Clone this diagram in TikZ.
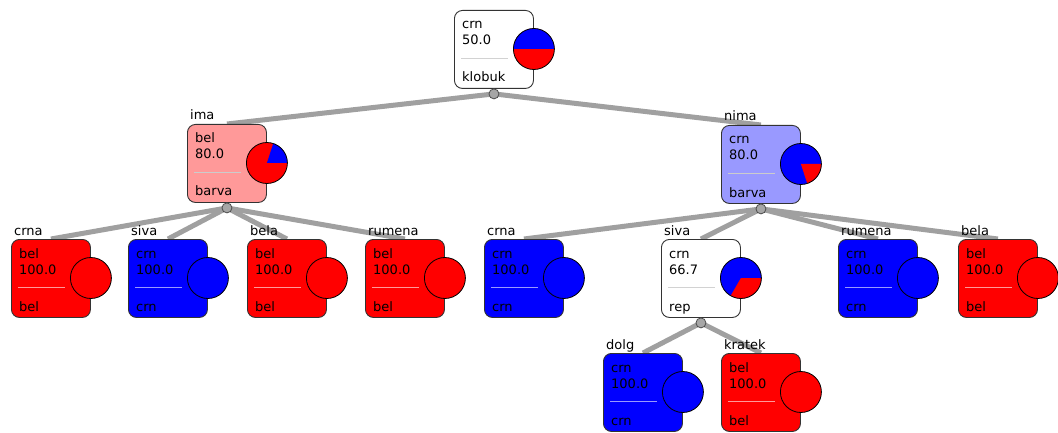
\documentclass[tikz,border=0pt]{standalone}
\usepackage{fontspec}
\setmainfont{DejaVu Sans}
\usetikzlibrary{backgrounds}
\definecolor{lred}{RGB}{255,153,153}
\definecolor{lblue}{RGB}{153,153,255}
\definecolor{connc}{RGB}{160,160,160}
\definecolor{pred}{RGB}{255,0,0}
\definecolor{pblue}{RGB}{0,0,255}
\tikzset{
 treebox/.style={draw=black!80, line width=0.9pt, rounded corners=8pt, minimum width=79pt, minimum height=78pt, inner sep=0pt, anchor=north west},
 txt/.style={anchor=base west, inner sep=0pt, font=\fontsize{13}{15}\selectfont},
 connline/.style={draw=connc, line width=5pt},
 knob/.style={circle, draw=black!70, fill=black!35, minimum size=10pt, inner sep=0pt, line width=0.8pt},
 pieedge/.style={draw=black, line width=0.8pt},
}
% name, x, y, fill, line1, line2, line3, separator colour
\newcommand\tbox[8]{%
 \node[treebox, fill=#4] (#1) at (#2,#3) {};
 \node[txt] (#1-a) at ([xshift=8pt,yshift=-19pt]#1.north west) {#5};
 \node[txt] (#1-b) at ([xshift=8pt,yshift=-35pt]#1.north west) {#6};
 \node[txt] (#1-d) at ([xshift=8pt,yshift=-72pt]#1.north west) {#7};
 \draw[draw=#8, line width=0.8pt] ([xshift=7pt,yshift=-48pt]#1.north west) -- ++(47pt,0pt);
 \coordinate (#1-c) at ([yshift=-39pt]#1.north east);
}
\newcommand\tknob[1]{%
 \node[knob] (#1-k) at ([yshift=-5pt]#1.south) {};
}
\newcommand\tlabel[2]{%
 \node[txt] (#1-l) at ([xshift=3pt,yshift=4pt]#1.north west) {#2};
}
% name, base colour, wedge colour, start, end
\newcommand\tpie[5]{%
 \fill[#2] (#1-c) circle (20.5pt);
 \fill[#3] (#1-c) -- ++(#4:20.5pt) arc[start angle=#4, end angle=#5, radius=20.5pt] -- cycle;
 \draw[pieedge] (#1-c) circle (20.5pt);
}
\begin{document}
\begin{tikzpicture}[x=1pt,y=-1pt]
\useasboundingbox (0,0) rectangle (1058,433);
% nodes
\tbox{root}{454}{10}{white}{crn}{50.0}{klobuk}{gray!35}
\tbox{ima}{187}{124}{lred}{bel}{80.0}{barva}{gray!40}
\tbox{nima}{721}{125}{lblue}{crn}{80.0}{barva}{gray!40}
\tbox{l1}{11}{239}{pred}{bel}{100.0}{bel}{white!60!pred}
\tbox{l2}{128}{239}{pblue}{crn}{100.0}{crn}{white!60!pblue}
\tbox{l3}{247}{239}{pred}{bel}{100.0}{bel}{white!60!pred}
\tbox{l4}{365}{239}{pred}{bel}{100.0}{bel}{white!60!pred}
\tbox{r1}{484}{239}{pblue}{crn}{100.0}{crn}{white!60!pblue}
\tbox{r2}{661}{239}{white}{crn}{66.7}{rep}{gray!35}
\tbox{r3}{838}{239}{pblue}{crn}{100.0}{crn}{white!60!pblue}
\tbox{r4}{958}{239}{pred}{bel}{100.0}{bel}{white!60!pred}
\tbox{s1}{603}{353}{pblue}{crn}{100.0}{crn}{white!60!pblue}
\tbox{s2}{721}{353}{pred}{bel}{100.0}{bel}{white!60!pred}
% labels
\tlabel{ima}{ima}
\tlabel{nima}{nima}
\tlabel{l1}{crna}
\tlabel{l2}{siva}
\tlabel{l3}{bela}
\tlabel{l4}{rumena}
\tlabel{r1}{crna}
\tlabel{r2}{siva}
\tlabel{r3}{rumena}
\tlabel{r4}{bela}
\tlabel{s1}{dolg}
\tlabel{s2}{kratek}
% pies
\tpie{root}{pred}{pblue}{0}{180}
\tpie{ima}{pred}{pblue}{0}{72}
\tpie{nima}{pblue}{pred}{-72}{0}
\tpie{r2}{pblue}{pred}{-120}{0}
\tpie{l1}{pred}{pred}{0}{0}
\tpie{l2}{pblue}{pblue}{0}{0}
\tpie{l3}{pred}{pred}{0}{0}
\tpie{l4}{pred}{pred}{0}{0}
\tpie{r1}{pblue}{pblue}{0}{0}
\tpie{r3}{pblue}{pblue}{0}{0}
\tpie{r4}{pred}{pred}{0}{0}
\tpie{s1}{pblue}{pblue}{0}{0}
\tpie{s2}{pred}{pred}{0}{0}
% knobs of inner nodes
\tknob{root}
\tknob{ima}
\tknob{nima}
\tknob{r2}
% connectors
\begin{pgfonlayer}{background}
\draw[connline] (root-k.center) -- (ima.north);
\draw[connline] (root-k.center) -- (nima.north);
\draw[connline] (ima-k.center) -- (l1.north);
\draw[connline] (ima-k.center) -- (l2.north);
\draw[connline] (ima-k.center) -- (l3.north);
\draw[connline] (ima-k.center) -- (l4.north);
\draw[connline] (nima-k.center) -- (r1.north);
\draw[connline] (nima-k.center) -- (r2.north);
\draw[connline] (nima-k.center) -- (r3.north);
\draw[connline] (nima-k.center) -- (r4.north);
\draw[connline] (r2-k.center) -- (s1.north);
\draw[connline] (r2-k.center) -- (s2.north);
\end{pgfonlayer}
\end{tikzpicture}
\end{document}
